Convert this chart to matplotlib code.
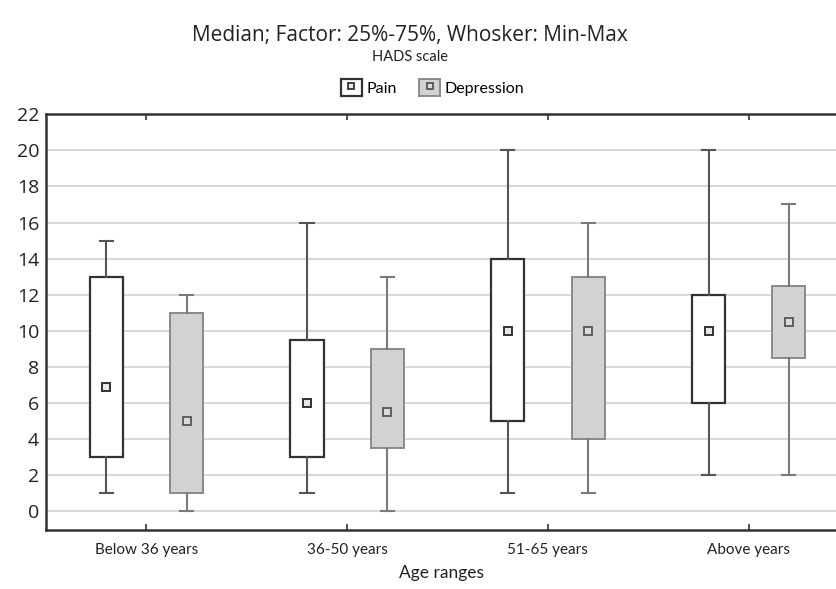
import matplotlib.pyplot as plt
from matplotlib.patches import Rectangle
from matplotlib.lines import Line2D
from matplotlib.legend_handler import HandlerTuple

categories = ["Below 36 years", "36-50 years", "51-65 years", "Above years"]

# min, q1, median, q3, max per age range
pain_min = [1, 1, 1, 2]
pain_q1 = [3, 3, 5, 6]
pain_med = [6.9, 6, 10, 10]
pain_q3 = [13, 9.5, 14, 12]
pain_max = [15, 16, 20, 20]

dep_min = [0, 0, 1, 2]
dep_q1 = [1, 3.5, 4, 8.5]
dep_med = [5, 5.5, 10, 10.5]
dep_q3 = [11, 9, 13, 12.5]
dep_max = [12, 13, 16, 17]

yticks = list(range(0, 23, 2))

narrow = ["Lato", "DejaVu Sans"]
regular = ["Open Sans", "DejaVu Sans"]

fig = plt.figure(figsize=(8.37, 5.89), dpi=100)
ax = fig.add_axes([0.055, 0.100, 0.945, 0.706])


def stats(lo, q1, med, q3, hi):
    return [dict(whislo=a, q1=b, med=c, q3=d, whishi=e, fliers=[])
            for a, b, c, d, e in zip(lo, q1, med, q3, hi)]


xs = list(range(len(categories)))
off = 0.2
bw = 0.165

ax.bxp(stats(pain_min, pain_q1, pain_med, pain_q3, pain_max),
       positions=[x - off for x in xs], widths=bw, capwidths=0.065,
       patch_artist=True, showfliers=False,
       boxprops=dict(facecolor="white", edgecolor="#333333", linewidth=1.6),
       whiskerprops=dict(color="#555555", linewidth=1.5),
       capprops=dict(color="#555555", linewidth=1.5),
       medianprops=dict(linestyle="none"), zorder=3)
ax.bxp(stats(dep_min, dep_q1, dep_med, dep_q3, dep_max),
       positions=[x + off for x in xs], widths=bw, capwidths=0.065,
       patch_artist=True, showfliers=False,
       boxprops=dict(facecolor="#d2d2d4", edgecolor="#8a8a8a", linewidth=1.4),
       whiskerprops=dict(color="#7a7a7a", linewidth=1.5),
       capprops=dict(color="#7a7a7a", linewidth=1.5),
       medianprops=dict(linestyle="none"), zorder=3)

# median markers
ax.plot([x - off for x in xs], pain_med, ls="none", marker="s", ms=6,
        mfc="#e8e8e8", mec="#333333", mew=1.4, zorder=4)
ax.plot([x + off for x in xs], dep_med, ls="none", marker="s", ms=6,
        mfc="#dcdcdc", mec="#555555", mew=1.3, zorder=4)

ax.set_xlim(-0.5, 3.44)
ax.set_ylim(-1.05, 22)
ax.set_yticks(yticks)
ax.set_yticklabels([str(t) for t in yticks], family=regular, fontsize=14, color="#222222")
ax.set_xticks(xs)
ax.set_xticklabels(categories, family=narrow, fontsize=11, color="#222222")
ax.tick_params(axis="y", length=0, pad=5)
ax.tick_params(axis="x", direction="in", length=4, width=1.2, top=True, pad=9, color="#333333")
ax.yaxis.grid(True, color="#d8d8d8", linewidth=1.4)
ax.set_axisbelow(True)
for s in ["left", "bottom", "top"]:
    ax.spines[s].set_linewidth(1.8)
    ax.spines[s].set_color("#333333")
ax.spines["right"].set_visible(False)

ax.set_xlabel("Age ranges", family=narrow, fontsize=12.5, color="#222222", labelpad=6)

fig.text(0.49, 0.94, "Median; Factor: 25%-75%, Whosker: Min-Max",
         family=regular, fontsize=15, ha="center", va="center", color="#222222")
fig.text(0.49, 0.903, "HADS scale", family=narrow, fontsize=10.5, ha="center",
         va="center", color="#222222")

h_pain = (Rectangle((0, 0), 1, 1, fc="white", ec="#333333", lw=1.6),
          Line2D([], [], ls="none", marker="s", ms=5, mfc="#e8e8e8", mec="#333333", mew=1.3))
h_dep = (Rectangle((0, 0), 1, 1, fc="#d2d2d4", ec="#8a8a8a", lw=1.4),
         Line2D([], [], ls="none", marker="s", ms=5, mfc="#dcdcdc", mec="#555555", mew=1.3))
fig.legend([h_pain, h_dep], ["Pain", "Depression"], loc="center",
           bbox_to_anchor=(0.517, 0.851), ncol=2, frameon=False,
           handler_map={tuple: HandlerTuple(ndivide=1, pad=0)},
           handlelength=1.3, handleheight=1.3, handletextpad=0.3, columnspacing=1.4,
           prop=dict(family="Lato", size=11.5))

fig.savefig("out.png", dpi=100)
